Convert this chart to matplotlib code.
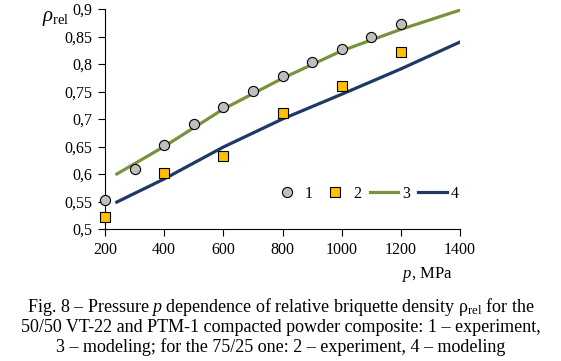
import matplotlib
matplotlib.use("Agg")
import matplotlib.pyplot as plt
from matplotlib.ticker import FuncFormatter

plt.rcParams['font.family'] = ['Liberation Serif', 'DejaVu Serif']
plt.rcParams['mathtext.fontset'] = 'custom'
plt.rcParams['mathtext.rm'] = 'Liberation Serif'
plt.rcParams['mathtext.it'] = 'Liberation Serif:italic'

# experiment, 50/50 composite (1)
p_exp1 = [200, 300, 400, 500, 600, 700, 800, 900, 1000, 1100, 1200]
rho_exp1 = [0.553, 0.609, 0.653, 0.691, 0.722, 0.751, 0.778, 0.803, 0.827, 0.850, 0.872]

# experiment, 75/25 composite (2)
p_exp2 = [200, 400, 600, 800, 1000, 1200]
rho_exp2 = [0.521, 0.601, 0.632, 0.711, 0.760, 0.821]

# modeling (3) and (4)
p_mod = [240, 400, 600, 800, 1000, 1200, 1400]
rho_mod3 = [0.600, 0.650, 0.718, 0.774, 0.824, 0.863, 0.898]
rho_mod4 = [0.549, 0.591, 0.649, 0.700, 0.745, 0.791, 0.840]

fig = plt.figure(figsize=(5.61, 3.61), dpi=100)
ax = fig.add_axes([105/561, 1 - 229/361, 355/561, 220/361])

ax.plot(p_exp1, rho_exp1, 'o', ms=7.3, mfc='#BFBFBF', mec='black', mew=0.8,
        ls='none', label='1', zorder=3, clip_on=False)
ax.plot(p_exp2, rho_exp2, 's', ms=7.0, mfc='#FFC000', mec='black', mew=0.8,
        ls='none', label='2', zorder=3, clip_on=False)
ax.plot(p_mod, rho_mod3, color='#77933C', lw=2.3, label='3')
ax.plot(p_mod, rho_mod4, color='#1F3864', lw=2.3, label='4')

ax.set_xlim(200, 1400)
ax.set_ylim(0.5, 0.9)
ax.set_xticks(range(200, 1401, 200))
ax.set_yticks([0.5 + 0.05 * i for i in range(9)])
ax.yaxis.set_major_formatter(FuncFormatter(lambda v, pos: ('%g' % round(v, 2)).replace('.', ',')))
ax.spines['top'].set_visible(False)
ax.spines['right'].set_visible(False)
ax.tick_params(labelsize=11.5, length=5, width=0.8, colors='black')
ax.tick_params(axis='y', pad=4)
ax.tick_params(axis='x', pad=4)

leg = ax.legend(ncol=4, loc='center right', bbox_to_anchor=(1.015, 35/220), frameon=False,
                fontsize=11.5, handlelength=1.8, handletextpad=0.25, columnspacing=0.5,
                numpoints=1, borderaxespad=0)

fig.text(42/561, 1 - 18/361, r'$\rho_{\mathrm{rel}}$', fontsize=15, ha='left', va='center')
fig.text(427/561, 1 - 275/361, r'$p$, MPa', fontsize=12, ha='center', va='center')

caption = ("Fig. 8 – Pressure $p$ dependence of relative briquette density "
           r"$\mathrm{\rho}_{\mathrm{rel}}$ for the" "\n"
           "50/50 VT-22 and PTM-1 compacted powder composite: 1 – experiment,\n"
           "3 – modeling; for the 75/25 one: 2 – experiment, 4 – modeling")
fig.text(0.5, 1 - 326/361, caption, fontsize=13, ha='center', va='center',
         linespacing=1.15)

fig.savefig('out.png', dpi=100)
